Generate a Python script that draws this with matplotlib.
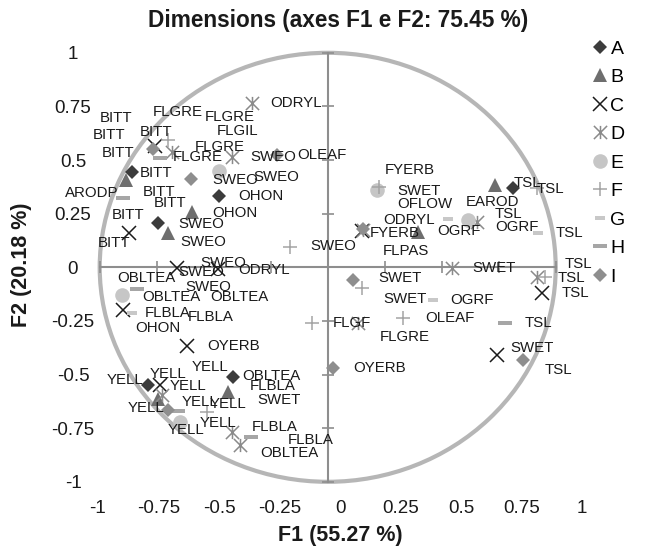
import matplotlib
matplotlib.use("Agg")
import matplotlib.pyplot as plt
from matplotlib.path import Path
from matplotlib.patches import Circle

plt.rcParams['font.family'] = ['Liberation Sans', 'DejaVu Sans']

title = 'Dimensions (axes F1 e F2: 75.45 %)'
x_title = 'F1 (55.27 %)'
y_title = 'F2 (20.18 %)'
ticks = [-1, -0.75, -0.5, -0.25, 0, 0.25, 0.5, 0.75, 1]
tick_labels = ['-1', '-0.75', '-0.5', '-0.25', '0', '0.25', '0.5', '0.75', '1']

# F1 / F2 coordinates of each series
a_f1 = [-0.858, -0.477, -0.744, 0.813, -0.788, -0.415]
a_f2 = [0.444, 0.332, 0.206, 0.370, -0.549, -0.511]
b_f1 = [-0.885, -0.595, -0.700, 0.734, 0.395, -0.437, -0.744]
b_f2 = [0.407, 0.258, 0.160, 0.384, 0.165, -0.581, -0.614]
c_f1 = [-0.757, -0.872, -0.661, -0.481, -0.898, -0.617, -0.736, 0.150, 0.940, 0.743]
c_f2 = [0.565, 0.160, -0.003, -0.008, -0.199, -0.367, -0.549, 0.169, -0.120, -0.409]
d_f1 = [-0.332, -0.683, -0.420, 0.155, 0.655, 0.545, 0.918, 0.133, -0.420, -0.385, -0.727]
d_f2 = [0.766, 0.537, 0.514, 0.174, 0.211, -0.003, -0.045, -0.260, -0.768, -0.828, -0.595]
e_f1 = [-0.477, 0.216, 0.615, -0.902, -0.648]
e_f2 = [0.449, 0.360, 0.220, -0.129, -0.721]
f_f1 = [-0.700, 0.225, 0.918, -0.165, 0.150, -0.069, 0.330, 0.953, -0.529]
f_f2 = [0.593, 0.374, 0.370, 0.095, -0.097, -0.260, -0.236, -0.045, -0.675]
g_f1 = [0.528, 0.922, 0.462, -0.858]
g_f2 = [0.225, 0.160, -0.152, -0.213]
h_f1 = [-0.897, -0.736, -0.836, 0.778, -0.657, -0.336]
h_f2 = [0.323, 0.510, -0.101, -0.260, -0.670, -0.791]
i_f1 = [-0.766, -0.600, -0.222, 0.155, 0.111, 0.023, 0.856, -0.700]
i_f2 = [0.552, 0.412, 0.524, 0.179, -0.059, -0.469, -0.432, -0.665]

# data labels (text, left edge / middle in F1 / F2 units)
label_names = ['BITT', 'BITT', 'BITT', 'BITT', 'BITT', 'BITT', 'BITT', 'BITT', 'BITT',
               'ARODP', 'FLGRE', 'FLGRE', 'FLGIL', 'FLGRE', 'FLGRE', 'ODRYL', 'SWEO',
               'OLEAF', 'SWEO', 'SWEO', 'OHON', 'OHON', 'SWEO', 'SWEO', 'SWEO',
               'SWEO', 'SWEO', 'ODRYL', 'OBLTEA', 'OBLTEA', 'SWEO', 'OBLTEA', 'FLBLA',
               'FLBLA', 'OHON', 'OYERB',
               'YELL', 'YELL', 'YELL', 'YELL', 'OBLTEA', 'FLBLA', 'SWET', 'YELL',
               'YELL', 'YELL', 'YELL', 'YELL', 'FLBLA', 'FLBLA', 'OBLTEA',
               'FYERB', 'SWET', 'OFLOW', 'ODRYL', 'FYERB', 'FLPAS', 'EAROD', 'TSL',
               'TSL', 'TSL', 'OGRF', 'OGRF', 'TSL', 'SWET', 'TSL', 'TSL', 'TSL',
               'SWET', 'SWET', 'OGRF', 'FLGF', 'OLEAF', 'FLGRE', 'TSL', 'SWET',
               'TSL', 'OYERB']
label_f1 = [-0.999, -1.029, -0.990, -0.823, -0.823, -0.810, -0.762, -0.946, -1.007,
            -1.151, -0.766, -0.538, -0.486, -0.582, -0.679, -0.253, -0.341,
            -0.135, -0.507, -0.328, -0.393, -0.507, -0.657, -0.648, -0.078,
            -0.656, -0.560, -0.393, -0.924, -0.815, -0.626, -0.516, -0.801,
            -0.613, -0.845, -0.529,
            -0.968, -0.779, -0.692, -0.595, -0.376, -0.341, -0.310, -0.879,
            -0.639, -0.516, -0.560, -0.700, -0.332, -0.174, -0.297,
            0.251, 0.304, 0.304, 0.243, 0.186, 0.243, 0.607, 0.817,
            0.918, 0.734, 0.734, 0.479, 1.001, 0.633, 1.041, 1.010, 1.028,
            0.221, 0.243, 0.536, 0.023, 0.427, 0.229, 0.865, 0.800,
            0.953, 0.111]
label_f2 = [0.696, 0.617, 0.533, 0.631, 0.440, 0.351, 0.300, 0.244, 0.113,
            0.346, 0.724, 0.701, 0.636, 0.561, 0.514, 0.766, 0.514,
            0.524, 0.407, 0.421, 0.332, 0.253, 0.202, 0.118, 0.099,
            -0.022, 0.020, -0.013, -0.050, -0.138, -0.092, -0.138, -0.213,
            -0.232, -0.283, -0.367,
            -0.525, -0.497, -0.553, -0.465, -0.507, -0.553, -0.619, -0.656,
            -0.628, -0.637, -0.726, -0.759, -0.745, -0.805, -0.866,
            0.454, 0.356, 0.295, 0.221, 0.160, 0.076, 0.304, 0.393,
            0.365, 0.248, 0.188, 0.169, 0.160, -0.003, 0.015, -0.050, -0.120,
            -0.050, -0.148, -0.152, -0.260, -0.236, -0.325, -0.260, -0.376,
            -0.479, -0.469]

# marker shapes excel uses that matplotlib lacks
star = Path([(-1, -1), (1, 1), (-1, 1), (1, -1), (0, -1), (0, 1)],
            [Path.MOVETO, Path.LINETO] * 3)
short_dash = Path([(-1, -0.4), (1, -0.4), (1, 0.4), (-1, 0.4), (-1, -0.4)],
                  [Path.MOVETO, Path.LINETO, Path.LINETO, Path.LINETO, Path.CLOSEPOLY])
long_dash = Path([(-1, -0.3), (1, -0.3), (1, 0.3), (-1, 0.3), (-1, -0.3)],
                 [Path.MOVETO, Path.LINETO, Path.LINETO, Path.LINETO, Path.CLOSEPOLY])

fig = plt.figure(figsize=(6.52, 5.47), dpi=100)

# axes only used for the outer tick labels
lab = fig.add_axes([98 / 652, 65.2 / 547, 484 / 652, 429 / 547])
lab.set_xlim(-1, 1)
lab.set_ylim(-1, 1)
lab.patch.set_visible(False)
for s in lab.spines.values():
    s.set_visible(False)
lab.set_xticks(ticks)
lab.set_xticklabels(tick_labels)
lab.set_yticks(ticks)
lab.set_yticklabels(tick_labels)
lab.tick_params(axis='x', length=0, pad=13, labelsize=13.5, colors='#1a1a1a')
lab.tick_params(axis='y', length=0, pad=18, labelsize=13.5, colors='#1a1a1a')
for t in lab.get_yticklabels():
    t.set_ha('center')

ax = fig.add_axes([99.7 / 652, 65.2 / 547, 456 / 652, 429 / 547])
ax.set_xlim(-1, 1)
ax.set_ylim(-1, 1)
ax.patch.set_visible(False)
ax.spines['top'].set_visible(False)
ax.spines['right'].set_visible(False)
ax.spines['left'].set_position('zero')
ax.spines['bottom'].set_position('zero')
for k in ['left', 'bottom']:
    ax.spines[k].set_color('#8e8e8e')
    ax.spines[k].set_linewidth(1.5)
    ax.spines[k].set_bounds(-1, 1)
ax.set_xticks(ticks)
ax.set_yticks(ticks)
ax.tick_params(direction='inout', length=8, width=1.2, color='#8e8e8e',
               labelleft=False, labelbottom=False)

ax.add_patch(Circle((0, 0), 1, fill=False, ec='#b6b6b6', lw=3, zorder=1, clip_on=False))

series = [
    ('A', a_f1, a_f2, dict(marker='D', ms=7.5, color='#3c3c3c', mew=0)),
    ('B', b_f1, b_f2, dict(marker='^', ms=10, color='#6e6e6e', mew=0)),
    ('C', c_f1, c_f2, dict(marker='x', ms=9.5, color='#1a1a1a', mew=1.1)),
    ('D', d_f1, d_f2, dict(marker=star, ms=9.5, color='#8a8a8a', mfc='none', mew=1.1)),
    ('E', e_f1, e_f2, dict(marker='o', ms=10.5, color='#c6c6c6', mew=0)),
    ('F', f_f1, f_f2, dict(marker='+', ms=10, color='#a4a4a4', mew=1.1)),
    ('G', g_f1, g_f2, dict(marker=short_dash, ms=6.5, color='#c8c8c8', mew=0)),
    ('H', h_f1, h_f2, dict(marker=long_dash, ms=10.5, color='#a6a6a6', mew=0)),
    ('I', i_f1, i_f2, dict(marker='D', ms=7.5, color='#8e8e8e', mew=0)),
]
handles = []
for name, xs, ys, style in series:
    ln, = ax.plot(xs, ys, linestyle='none', clip_on=False, zorder=3, label=name, **style)
    handles.append(ln)

for txt, x, y in zip(label_names, label_f1, label_f2):
    ax.text(x, y, txt, ha='left', va='center', fontsize=10.8, color='#1a1a1a',
            zorder=4, clip_on=False)

fig.legend(handles=handles, loc='upper left', bbox_to_anchor=(592 / 652, 1 - 40 / 547),
           frameon=False, fontsize=14, handlelength=0.8, handletextpad=0.15,
           labelspacing=0.56, borderpad=0, borderaxespad=0, numpoints=1)

fig.text(338 / 652, 1 - 21 / 547, title, ha='center', va='center',
         fontsize=16.3, fontweight='bold', color='#1a1a1a')
fig.text(340 / 652, 1 - 535 / 547, x_title, ha='center', va='center',
         fontsize=15.5, fontweight='bold', color='#1a1a1a')
fig.text(22 / 652, 1 - 265 / 547, y_title, ha='center', va='center', rotation=90,
         fontsize=15.5, fontweight='bold', color='#1a1a1a')

fig.savefig('out.png', dpi=100)
